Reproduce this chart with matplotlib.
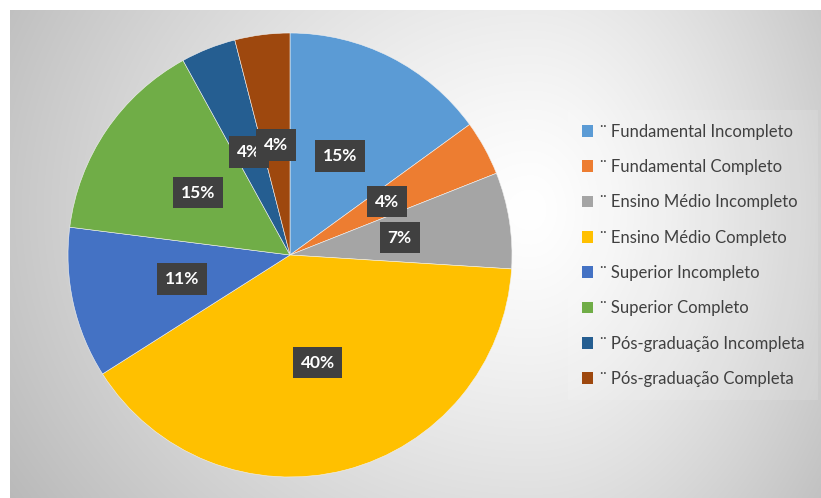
import numpy as np
import matplotlib.pyplot as plt
from matplotlib.patches import Patch

plt.rcParams['font.family'] = ['Lato', 'DejaVu Sans']

# escolaridade dos respondentes
categorias = ["Fundamental Incompleto", "Fundamental Completo",
              "Ensino Médio Incompleto", "Ensino Médio Completo",
              "Superior Incompleto", "Superior Completo",
              "Pós-graduação Incompleta", "Pós-graduação Completa"]
percentuais = [15, 4, 7, 40, 11, 15, 4, 4]
cores = ["#5B9BD5", "#ED7D31", "#A5A5A5", "#FFC000",
         "#4472C4", "#70AD47", "#255E91", "#9E480E"]

W, H = 821, 498
fig = plt.figure(figsize=(W / 100, H / 100), dpi=100, facecolor="white")

# fundo cinza com gradiente radial
bg = fig.add_axes([10 / W, 0, 1 - 10 / W, 1 - 10 / H])
bw, bh = W - 10, H - 10
xx, yy = np.meshgrid(np.arange(bw), np.arange(bh))
cx, cy = 520, 200
rx = np.where(xx < cx, 560, 360)
d = np.sqrt(((xx - cx) / rx) ** 2 + ((yy - cy) / 480) ** 2)
v = 1.0 - 0.24 * np.clip(d, 0, 1.3) ** 1.3
img = np.dstack([v, v, v])
bg.imshow(img, aspect="auto", interpolation="bilinear")
bg.axis("off")

# pizza
pcx, pcy, r = 290, 255, 222
ax = fig.add_axes([(pcx - r) / W, 1 - (pcy + r) / H, 2 * r / W, 2 * r / H])
wedges, _, autotexts = ax.pie(
    percentuais, colors=cores, startangle=90, counterclock=False,
    autopct="%d%%", pctdistance=0.5,
    wedgeprops=dict(edgecolor="#f2f2f2", linewidth=0.4),
    textprops=dict(color="white", fontsize=12.5, fontweight="bold"))
for t in autotexts:
    t.set_bbox(dict(boxstyle="square,pad=0.45", facecolor="#404040",
                    edgecolor="none"))
ax.set_xlim(-1, 1)
ax.set_ylim(-1, 1)
ax.set_aspect("auto")

# legenda
handles = [Patch(facecolor=c, edgecolor="none") for c in cores]
rotulos = ["¨ " + c for c in categorias]
leg = fig.legend(handles, rotulos, loc="upper left",
                 bbox_to_anchor=(565 / W, 1 - 107 / H),
                 frameon=True, fontsize=12, labelspacing=1.16,
                 handlelength=0.7, handleheight=0.7, handletextpad=0.4,
                 borderpad=0.5)
leg.get_frame().set_facecolor("white")
leg.get_frame().set_alpha(0.12)
leg.get_frame().set_edgecolor("none")
leg.get_frame().set_boxstyle("square")
for t in leg.get_texts():
    t.set_color("#404040")

fig.savefig("out.png", dpi=100, facecolor="white")
